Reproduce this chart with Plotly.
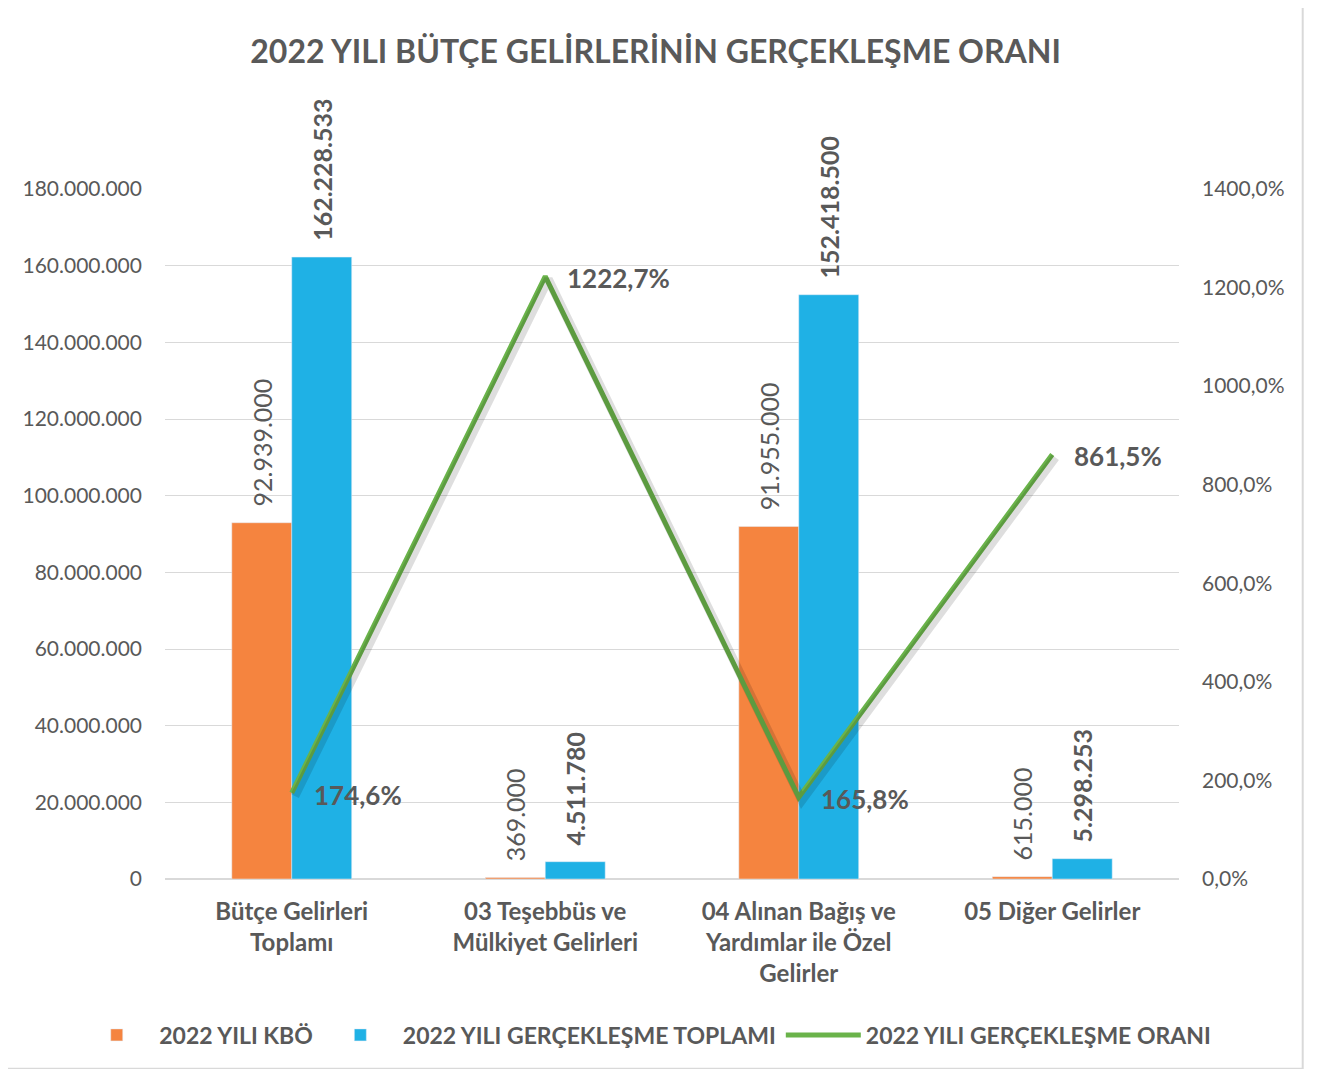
import plotly.graph_objects as go

kategoriler = ["Bütçe Gelirleri<br>Toplamı", "03 Teşebbüs ve<br>Mülkiyet Gelirleri",
               "04 Alınan Bağış ve<br>Yardımlar ile Özel<br>Gelirler", "05 Diğer Gelirler"]
kbo = [92939000, 369000, 91955000, 615000]
gerceklesme = [162228533, 4511780, 152418500, 5298253]
oran = [174.6, 1222.7, 165.8, 861.5]

sol_tick = list(range(0, 180000001, 20000000))
sag_tick = list(range(0, 1401, 200))

def nokta(v):
    return f"{v:,}".replace(",", ".")

GRI = "#595959"
FONT = "Lato"

fig = go.Figure()
fig.add_bar(x=kategoriler, y=kbo, name="<b>2022 YILI KBÖ</b>", marker_color="#f5843f")
fig.add_bar(x=kategoriler, y=gerceklesme, name="<b>2022 YILI GERÇEKLEŞME TOPLAMI</b>", marker_color="#1fb1e5")

# gölge
fig.add_scatter(x=kategoriler, y=oran, mode="lines", yaxis="y3", xaxis="x2",
                line=dict(color="rgba(0,0,0,0.13)", width=9), showlegend=False, hoverinfo="skip")
fig.add_scatter(x=kategoriler, y=oran, mode="lines", yaxis="y2", name="<b>2022 YILI GERÇEKLEŞME ORANI</b>",
                line=dict(color="#6ab34a", width=5))

for i, k in enumerate(kategoriler):
    fig.add_annotation(x=k, y=kbo[i], text=nokta(kbo[i]), textangle=-90, showarrow=False,
                       xshift=-30, yanchor="bottom", yshift=14,
                       font=dict(family=FONT, size=25, color=GRI))
    fig.add_annotation(x=k, y=gerceklesme[i], text="<b>" + nokta(gerceklesme[i]) + "</b>",
                       textangle=-90, showarrow=False, xshift=30, yanchor="bottom", yshift=14,
                       font=dict(family=FONT, size=25, color=GRI))
    fig.add_annotation(x=k, y=oran[i], yref="y2", text="<b>" + f"{oran[i]:.1f}".replace(".", ",") + "%</b>",
                       showarrow=False, xanchor="left", xshift=20, yshift=-2,
                       font=dict(family=FONT, size=26, color=GRI))

fig.update_layout(
    width=1303, height=1061,
    paper_bgcolor="white", plot_bgcolor="white",
    margin=dict(l=157, r=132, t=181, b=190),
    title=dict(text="<b>2022 YILI BÜTÇE GELİRLERİNİN GERÇEKLEŞME ORANI</b>", x=0.497, xanchor="center",
               y=0.959, yanchor="middle", font=dict(family=FONT, size=32, color=GRI)),
    barmode="group", bargap=0.527, bargroupgap=0,
    font=dict(family=FONT, color=GRI),
    xaxis=dict(tickfont=dict(family=FONT, size=24, color=GRI), showline=False, ticks="",
               tickprefix="<b>", ticksuffix="</b>", ticklabelstandoff=16),
    xaxis2=dict(overlaying="x", range=[-0.512, 3.488], visible=False),
    yaxis=dict(range=[0, 180000000], tickvals=sol_tick, ticktext=[nokta(v) for v in sol_tick],
               gridcolor="#d9d9d9", gridwidth=1, zeroline=True, zerolinecolor="#d9d9d9",
               showline=False, ticks="", ticklabelstandoff=22,
               tickfont=dict(family=FONT, size=21, color=GRI)),
    yaxis2=dict(overlaying="y", side="right", range=[0, 1400], tickvals=sag_tick,
                ticktext=[f"{v},0%" for v in sag_tick], showgrid=False, zeroline=False,
                showline=False, ticks="", ticklabelstandoff=22,
                tickfont=dict(family=FONT, size=21, color=GRI)),
    yaxis3=dict(overlaying="y", range=[6, 1406], visible=False),
    legend=dict(orientation="h", x=-0.0895, xanchor="left", y=-0.226, yanchor="middle",
                font=dict(family=FONT, size=23, color=GRI), itemwidth=75, traceorder="normal"),
    shapes=[dict(type="rect", xref="paper", yref="paper", x0=-0.159, x1=1.122, y0=-0.275, y1=1.3,
                 line=dict(color="#d9d9d9", width=2))],
)

fig.write_html("out.html")
